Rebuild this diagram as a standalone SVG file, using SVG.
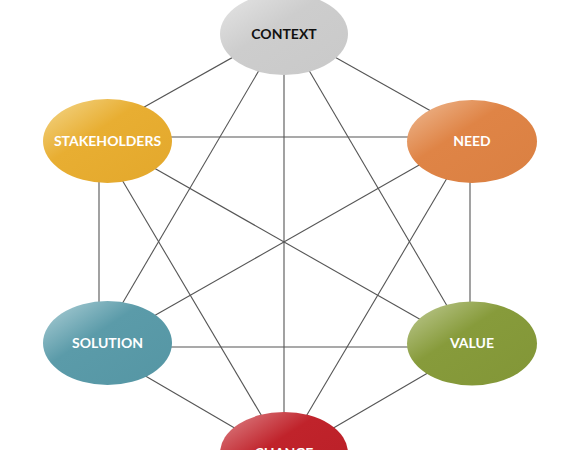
<svg xmlns="http://www.w3.org/2000/svg" width="580" height="450" viewBox="0 0 580 450">
<style>
.edge{stroke:#555555;stroke-width:1.1;fill:none}
.lbl{font-family:Lato,"Open Sans","Liberation Sans",sans-serif;font-weight:bold;font-size:14px;text-anchor:middle;fill:#ffffff}
.dark{fill:#111111}
</style>
<defs>
<linearGradient id="gCtx" x1="0" y1="0" x2="1" y2="1"><stop offset="0" stop-color="#e6e6e6"/><stop offset="0.42" stop-color="#cdcdcd"/><stop offset="1" stop-color="#c9c9c9"/></linearGradient>
<linearGradient id="gSta" x1="0" y1="0" x2="1" y2="1"><stop offset="0" stop-color="#f4d88e"/><stop offset="0.4" stop-color="#e8ae32"/><stop offset="1" stop-color="#e3a82c"/></linearGradient>
<linearGradient id="gNee" x1="0" y1="0" x2="1" y2="1"><stop offset="0" stop-color="#efbc96"/><stop offset="0.4" stop-color="#df8446"/><stop offset="1" stop-color="#da8042"/></linearGradient>
<linearGradient id="gSol" x1="0" y1="0" x2="1" y2="1"><stop offset="0" stop-color="#b2d2d9"/><stop offset="0.4" stop-color="#5b9ba9"/><stop offset="1" stop-color="#5596a4"/></linearGradient>
<linearGradient id="gVal" x1="0" y1="0" x2="1" y2="1"><stop offset="0" stop-color="#c2cd98"/><stop offset="0.4" stop-color="#879b3b"/><stop offset="1" stop-color="#829637"/></linearGradient>
<linearGradient id="gCha" x1="0" y1="0" x2="1" y2="1"><stop offset="0" stop-color="#df8a8e"/><stop offset="0.4" stop-color="#c0232b"/><stop offset="1" stop-color="#b91f27"/></linearGradient>
</defs>
<rect width="580" height="450" fill="#ffffff"/>
<g id="connectors">
<line class="edge" x1="260" y1="42" x2="130" y2="115"/>
<line class="edge" x1="308" y1="42" x2="438" y2="115"/>
<line class="edge" x1="268" y1="55" x2="115" y2="316"/>
<line class="edge" x1="300" y1="55" x2="453" y2="316"/>
<line class="edge" x1="284" y1="50" x2="284" y2="430"/>
<line class="edge" x1="150" y1="137" x2="430" y2="137"/>
<line class="edge" x1="99" y1="160" x2="99" y2="320"/>
<line class="edge" x1="140" y1="160" x2="430" y2="325"/>
<line class="edge" x1="115" y1="168" x2="270" y2="430"/>
<line class="edge" x1="428" y1="160" x2="138" y2="325"/>
<line class="edge" x1="470" y1="160" x2="470" y2="320"/>
<line class="edge" x1="453" y1="168" x2="298" y2="430"/>
<line class="edge" x1="150" y1="347" x2="430" y2="347"/>
<line class="edge" x1="130" y1="367" x2="250" y2="437"/>
<line class="edge" x1="438" y1="367" x2="318" y2="437"/>
</g>
<g id="context"><ellipse cx="284" cy="34" rx="64" ry="41" fill="url(#gCtx)"/><text class="lbl dark" x="284" y="38.5">CONTEXT</text></g>
<g id="stakeholders"><ellipse cx="107.5" cy="141" rx="64.5" ry="42" fill="url(#gSta)"/><text class="lbl" x="107.5" y="146">STAKEHOLDERS</text></g>
<g id="need"><ellipse cx="472" cy="141.5" rx="65" ry="41.5" fill="url(#gNee)"/><text class="lbl" x="472" y="146">NEED</text></g>
<g id="solution"><ellipse cx="107.5" cy="343" rx="64.5" ry="42" fill="url(#gSol)"/><text class="lbl" x="107.5" y="348">SOLUTION</text></g>
<g id="value"><ellipse cx="472" cy="343.5" rx="65" ry="42" fill="url(#gVal)"/><text class="lbl" x="472" y="348">VALUE</text></g>
<g id="change"><ellipse cx="284" cy="453" rx="64" ry="41" fill="url(#gCha)"/><text class="lbl" x="284" y="457.5">CHANGE</text></g>
</svg>
